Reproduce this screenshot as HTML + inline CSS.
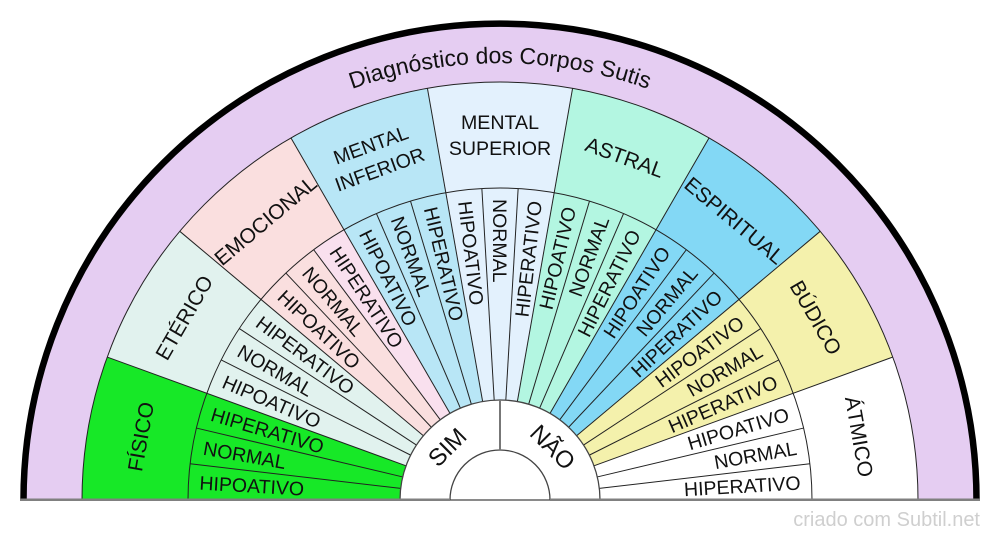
<!DOCTYPE html>
<html>
<head>
<meta charset="utf-8">
<style>
  html, body { margin: 0; padding: 0; background: #ffffff; width: 1000px; height: 540px; overflow: hidden; }
  svg { display: block; }
  text { font-family: "Liberation Sans", Arial, sans-serif; fill: #111; }
</style>
</head>
<body>
<svg width="1000" height="540" viewBox="0 0 1000 540" xmlns="http://www.w3.org/2000/svg" style="overflow:hidden">
  <defs>
    <path id="tp" d="M 63,500 A 437,437 0 0 1 937,500"/>
  </defs>

  <!-- purple outer ring -->
  <path d="M 24,500 A 476,476 0 0 1 976,500 Z" fill="#e5cdf2"/>

  <!-- body sectors -->
  <g>
    <path d="M500,500 L82,500 A418,418 0 0 1 107.2,357.04 Z" fill="#17e827" transform="rotate(0 500 500)"/>
    <path d="M500,500 L82,500 A418,418 0 0 1 107.2,357.04 Z" fill="#e1f2ee" transform="rotate(20 500 500)"/>
    <path d="M500,500 L82,500 A418,418 0 0 1 107.2,357.04 Z" fill="#fadfdf" transform="rotate(40 500 500)"/>
    <path d="M500,500 L82,500 A418,418 0 0 1 107.2,357.04 Z" fill="#b8e6f6" transform="rotate(60 500 500)"/>
    <path d="M500,500 L82,500 A418,418 0 0 1 107.2,357.04 Z" fill="#e3f1fd" transform="rotate(80 500 500)"/>
    <path d="M500,500 L82,500 A418,418 0 0 1 107.2,357.04 Z" fill="#b3f6e1" transform="rotate(100 500 500)"/>
    <path d="M500,500 L82,500 A418,418 0 0 1 107.2,357.04 Z" fill="#83d8f5" transform="rotate(120 500 500)"/>
    <path d="M500,500 L82,500 A418,418 0 0 1 107.2,357.04 Z" fill="#f4f1ac" transform="rotate(140 500 500)"/>
    <path d="M500,500 L82,500 A418,418 0 0 1 107.2,357.04 Z" fill="#ffffff" transform="rotate(160 500 500)"/>
    <!-- EMOCIONAL HIPERATIVO lighter sub-sector -->
    <path d="M500,500 L188,500 A312,312 0 0 1 190.11,463.78 Z" fill="#f9e0ee" transform="rotate(53.333 500 500)"/>
  </g>

  <!-- arcs -->
  <path d="M82,500 A418,418 0 0 1 918,500" fill="none" stroke="#222" stroke-width="1"/>
  <path d="M188,500 A312,312 0 0 1 812,500" fill="none" stroke="#222" stroke-width="1"/>

  <!-- body boundaries -->
  <g stroke="#222" stroke-width="1">
    <line x1="82" y1="500" x2="400" y2="500" transform="rotate(20 500 500)"/>
    <line x1="82" y1="500" x2="400" y2="500" transform="rotate(40 500 500)"/>
    <line x1="82" y1="500" x2="400" y2="500" transform="rotate(60 500 500)"/>
    <line x1="82" y1="500" x2="400" y2="500" transform="rotate(80 500 500)"/>
    <line x1="82" y1="500" x2="400" y2="500" transform="rotate(100 500 500)"/>
    <line x1="82" y1="500" x2="400" y2="500" transform="rotate(120 500 500)"/>
    <line x1="82" y1="500" x2="400" y2="500" transform="rotate(140 500 500)"/>
    <line x1="82" y1="500" x2="400" y2="500" transform="rotate(160 500 500)"/>
  </g>
  <!-- sub boundaries -->
  <g stroke="#222" stroke-width="1">
    <line x1="188" y1="500" x2="400" y2="500" transform="rotate(6.667 500 500)"/>
    <line x1="188" y1="500" x2="400" y2="500" transform="rotate(13.333 500 500)"/>
    <line x1="188" y1="500" x2="400" y2="500" transform="rotate(26.667 500 500)"/>
    <line x1="188" y1="500" x2="400" y2="500" transform="rotate(33.333 500 500)"/>
    <line x1="188" y1="500" x2="400" y2="500" transform="rotate(46.667 500 500)"/>
    <line x1="188" y1="500" x2="400" y2="500" transform="rotate(53.333 500 500)"/>
    <line x1="188" y1="500" x2="400" y2="500" transform="rotate(66.667 500 500)"/>
    <line x1="188" y1="500" x2="400" y2="500" transform="rotate(73.333 500 500)"/>
    <line x1="188" y1="500" x2="400" y2="500" transform="rotate(86.667 500 500)"/>
    <line x1="188" y1="500" x2="400" y2="500" transform="rotate(93.333 500 500)"/>
    <line x1="188" y1="500" x2="400" y2="500" transform="rotate(106.667 500 500)"/>
    <line x1="188" y1="500" x2="400" y2="500" transform="rotate(113.333 500 500)"/>
    <line x1="188" y1="500" x2="400" y2="500" transform="rotate(126.667 500 500)"/>
    <line x1="188" y1="500" x2="400" y2="500" transform="rotate(133.333 500 500)"/>
    <line x1="188" y1="500" x2="400" y2="500" transform="rotate(146.667 500 500)"/>
    <line x1="188" y1="500" x2="400" y2="500" transform="rotate(153.333 500 500)"/>
    <line x1="188" y1="500" x2="400" y2="500" transform="rotate(166.667 500 500)"/>
    <line x1="188" y1="500" x2="400" y2="500" transform="rotate(173.333 500 500)"/>
  </g>

  <!-- inner SIM / NÃO ring -->
  <path d="M400,500 A100,100 0 0 1 600,500 Z" fill="#ffffff" stroke="#444" stroke-width="1.3"/>
  <path d="M450,500 A50,50 0 0 1 550,500" fill="none" stroke="#444" stroke-width="1.3"/>
  <line x1="500" y1="400" x2="500" y2="450" stroke="#777" stroke-width="2"/>

  <!-- outer black arc -->
  <path d="M 23.5,500 A 476.5,476.5 0 0 1 976.5,500" fill="none" stroke="#000" stroke-width="6.5"/>

  <!-- baseline -->
  <line x1="20" y1="499.7" x2="450" y2="499.7" stroke="#808080" stroke-width="2.5"/>
  <line x1="550" y1="499.7" x2="980" y2="499.7" stroke="#808080" stroke-width="2.5"/>

  <!-- title -->
  <text font-size="23" text-anchor="middle"><textPath href="#tp" startOffset="50%">Diagnóstico dos Corpos Sutis</textPath></text>

  <!-- body labels -->
  <g font-size="21" text-anchor="middle">
    <text x="500" y="135" dy="0.36em" transform="rotate(-80 500 500)">FÍSICO</text>
    <text x="500" y="135" dy="0.36em" transform="rotate(-60 500 500)">ETÉRICO</text>
    <text x="500" y="135" dy="0.36em" transform="rotate(-40 500 500)">EMOCIONAL</text>
    <text x="500" y="135" dy="0.36em" transform="rotate(20 500 500)">ASTRAL</text>
    <text x="500" y="135" dy="0.36em" transform="rotate(40 500 500)">ESPIRITUAL</text>
    <text x="500" y="135" dy="0.36em" transform="rotate(60 500 500)">BÚDICO</text>
    <text x="500" y="135" dy="0.36em" transform="rotate(80 500 500)">ÁTMICO</text>
  </g>
  <g font-size="19.6" text-anchor="middle">
    <text x="500" y="122" dy="0.36em" transform="rotate(-20 500 500)">MENTAL</text>
    <text x="500" y="148" dy="0.36em" transform="rotate(-20 500 500)">INFERIOR</text>
    <text x="500" y="122" dy="0.36em">MENTAL</text>
    <text x="500" y="148" dy="0.36em">SUPERIOR</text>
  </g>

  <!-- sub labels reading inward -->
  <g font-size="19.5" text-anchor="start">
    <text x="199" y="500" dy="0.36em" transform="rotate(3.333 500 500)">HIPOATIVO</text>
    <text x="199" y="500" dy="0.36em" transform="rotate(10 500 500)">NORMAL</text>
    <text x="199" y="500" dy="0.36em" transform="rotate(16.667 500 500)">HIPERATIVO</text>
    <text x="199" y="500" dy="0.36em" transform="rotate(23.333 500 500)">HIPOATIVO</text>
    <text x="199" y="500" dy="0.36em" transform="rotate(30 500 500)">NORMAL</text>
    <text x="199" y="500" dy="0.36em" transform="rotate(36.667 500 500)">HIPERATIVO</text>
    <text x="199" y="500" dy="0.36em" transform="rotate(43.333 500 500)">HIPOATIVO</text>
    <text x="199" y="500" dy="0.36em" transform="rotate(50 500 500)">NORMAL</text>
    <text x="199" y="500" dy="0.36em" transform="rotate(56.667 500 500)">HIPERATIVO</text>
    <text x="199" y="500" dy="0.36em" transform="rotate(63.333 500 500)">HIPOATIVO</text>
    <text x="199" y="500" dy="0.36em" transform="rotate(70 500 500)">NORMAL</text>
    <text x="199" y="500" dy="0.36em" transform="rotate(76.667 500 500)">HIPERATIVO</text>
    <text x="199" y="500" dy="0.36em" transform="rotate(83.333 500 500)">HIPOATIVO</text>
    <text x="199" y="500" dy="0.36em" transform="rotate(90 500 500)">NORMAL</text>
  </g>
  <!-- sub labels reading outward -->
  <g font-size="19.5" text-anchor="end">
    <text x="801" y="500" dy="0.36em" transform="rotate(-83.333 500 500)">HIPERATIVO</text>
    <text x="801" y="500" dy="0.36em" transform="rotate(-76.667 500 500)">HIPOATIVO</text>
    <text x="801" y="500" dy="0.36em" transform="rotate(-70 500 500)">NORMAL</text>
    <text x="801" y="500" dy="0.36em" transform="rotate(-63.333 500 500)">HIPERATIVO</text>
    <text x="801" y="500" dy="0.36em" transform="rotate(-56.667 500 500)">HIPOATIVO</text>
    <text x="801" y="500" dy="0.36em" transform="rotate(-50 500 500)">NORMAL</text>
    <text x="801" y="500" dy="0.36em" transform="rotate(-43.333 500 500)">HIPERATIVO</text>
    <text x="801" y="500" dy="0.36em" transform="rotate(-36.667 500 500)">HIPOATIVO</text>
    <text x="801" y="500" dy="0.36em" transform="rotate(-30 500 500)">NORMAL</text>
    <text x="801" y="500" dy="0.36em" transform="rotate(-23.333 500 500)">HIPERATIVO</text>
    <text x="801" y="500" dy="0.36em" transform="rotate(-16.667 500 500)">HIPOATIVO</text>
    <text x="801" y="500" dy="0.36em" transform="rotate(-10 500 500)">NORMAL</text>
    <text x="801" y="500" dy="0.36em" transform="rotate(-3.333 500 500)">HIPERATIVO</text>
  </g>

  <!-- SIM / NÃO -->
  <g font-size="24" text-anchor="middle">
    <text x="500" y="425" dy="0.36em" transform="rotate(-45 500 500)">SIM</text>
    <text x="500" y="425" dy="0.36em" transform="rotate(45 500 500)">NÃO</text>
  </g>

  <!-- watermark -->
  <text x="980" y="526" text-anchor="end" font-size="20" style="fill:#cfcfcf">criado com Subtil.net</text>
</svg>
</body>
</html>
